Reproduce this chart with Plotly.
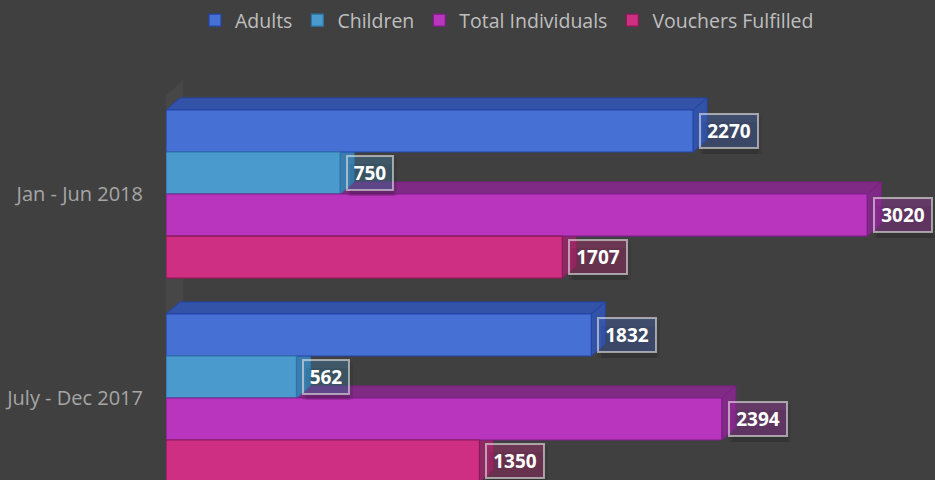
import plotly.graph_objects as go

# ---------------- data ----------------
categories = ["Jan - Jun 2018", "July - Dec 2017"]
series_names = ["Adults", "Children", "Total Individuals", "Vouchers Fulfilled"]
adults = [2270, 1832]
children = [750, 562]
total_individuals = [3020, 2394]
vouchers_fulfilled = [1707, 1350]
series_values = [adults, children, total_individuals, vouchers_fulfilled]

# ---------------- styles ----------------
front_colors = ["#4670d4", "#4a9acd", "#b935be", "#cf2f82"]
edge_colors = ["#2445a6", "#2c74a6", "#7c1f86", "#8a1b57"]
face_colors = ["#3353a8", "#3a7db0", "#7f2a84", "#8e2a63"]
label_bg = ["rgba(70,112,212,0.32)", "rgba(74,154,205,0.3)",
            "rgba(185,53,190,0.32)", "rgba(207,47,130,0.32)"]
BG = "#404040"

BARGAP = 0.176
N = len(series_names)
BW = (1 - BARGAP) / N
X_RANGE = [0, 3312]
Y_RANGE = [1.402, -0.559]
W, H = 935, 480
M_L, M_R, M_T, M_B = 166, 0, 80, 0
px_x = (W - M_L - M_R) / (X_RANGE[1] - X_RANGE[0])
px_y = (H - M_T - M_B) / (Y_RANGE[0] - Y_RANGE[1])
DX = 14 / px_x   # depth offset (data units)
DY = 12 / px_y

cat_pos = list(range(len(categories)))

fig = go.Figure()
for s, name in enumerate(series_names):
    fig.add_trace(go.Bar(
        name=name, y=cat_pos, x=series_values[s], orientation="h",
        marker=dict(color=front_colors[s], line=dict(color=edge_colors[s], width=1.2)),
        hoverinfo="skip",
    ))

shapes = []
# left wall of the 3-D plot area
wall_x0 = -5 / px_x
wall_x1 = 17 / px_x
wall_yf = Y_RANGE[1] + 20 / px_y
wall_yb = Y_RANGE[1]
shapes.append(dict(
    type="path", xref="x", yref="y", layer="below",
    path=f"M {wall_x0},{wall_yf} L {wall_x1},{wall_yb} L {wall_x1},{Y_RANGE[0]} L {wall_x0},{Y_RANGE[0]} Z",
    fillcolor="#474747", line=dict(width=0),
))

annotations = []
for c in cat_pos:
    for s in reversed(range(N)):
        v = series_values[s][c]
        yt = c - (1 - BARGAP) / 2 + s * BW
        yb = yt + BW
        top = f"M 0,{yt} L {v},{yt} L {v + DX},{yt - DY} L {DX},{yt - DY} Z"
        side = f"M {v},{yt} L {v + DX},{yt - DY} L {v + DX},{yb - DY} L {v},{yb} Z"
        for p in (top, side):
            shapes.append(dict(type="path", xref="x", yref="y", layer="below", path=p,
                               fillcolor=face_colors[s],
                               line=dict(color=edge_colors[s], width=1)))

# soft shadows behind the labels
for c in cat_pos:
    for s in range(N):
        v = series_values[s][c]
        yc = c - (1 - BARGAP) / 2 + (s + 0.5) * BW
        nd = len(str(v))
        for k, a in ((0, 0.10), (3, 0.08)):
            annotations.append(dict(
                x=v, y=yc, xref="x", yref="y", text=" ", showarrow=False,
                xanchor="left", yanchor="middle", xshift=10 - k, yshift=-7 + k,
                font=dict(family="Open Sans", size=19),
                width=12 * nd + 2 * k, height=24 + 2 * k,
                bgcolor=f"rgba(0,0,0,{a})", borderwidth=0, borderpad=4,
            ))
for c in cat_pos:
    for s in range(N):
        v = series_values[s][c]
        yc = c - (1 - BARGAP) / 2 + (s + 0.5) * BW
        nd = len(str(v))
        annotations.append(dict(
            x=v, y=yc, xref="x", yref="y", text=f"<b>{v}</b>", showarrow=False,
            xanchor="left", yanchor="middle", xshift=6, align="center",
            font=dict(family="Open Sans", size=19, color="#ffffff"),
            width=12 * nd, height=24,
            bgcolor=label_bg[s], bordercolor="rgba(220,220,220,0.65)",
            borderwidth=2, borderpad=4,
        ))

fig.update_layout(
    width=W, height=H,
    margin=dict(l=M_L, r=M_R, t=M_T, b=M_B),
    paper_bgcolor=BG, plot_bgcolor=BG,
    barmode="group", bargap=BARGAP, bargroupgap=0,
    shapes=shapes, annotations=annotations,
    showlegend=True,
    legend=dict(orientation="h", x=(195 - M_L) / (W - M_L - M_R), xanchor="left",
                y=1 + (M_T - 1) / (H - M_T - M_B), yanchor="top",
                font=dict(family="Open Sans", size=19.5, color="#bfbfbf"),
                bgcolor="rgba(0,0,0,0)", traceorder="normal"),
    xaxis=dict(range=X_RANGE, showgrid=False, zeroline=False, showticklabels=False,
               showline=False, fixedrange=True),
    yaxis=dict(range=Y_RANGE, tickvals=cat_pos, ticktext=categories, showgrid=False,
               zeroline=False, showline=False, ticks="", ticklabelstandoff=22,
               tickfont=dict(family="Open Sans", size=20, color="#a6a6a6"),
               fixedrange=True),
)

fig.write_html("out.html", config={"displayModeBar": False},
               post_script="document.body.style.margin='0';document.body.style.background='#404040';")
